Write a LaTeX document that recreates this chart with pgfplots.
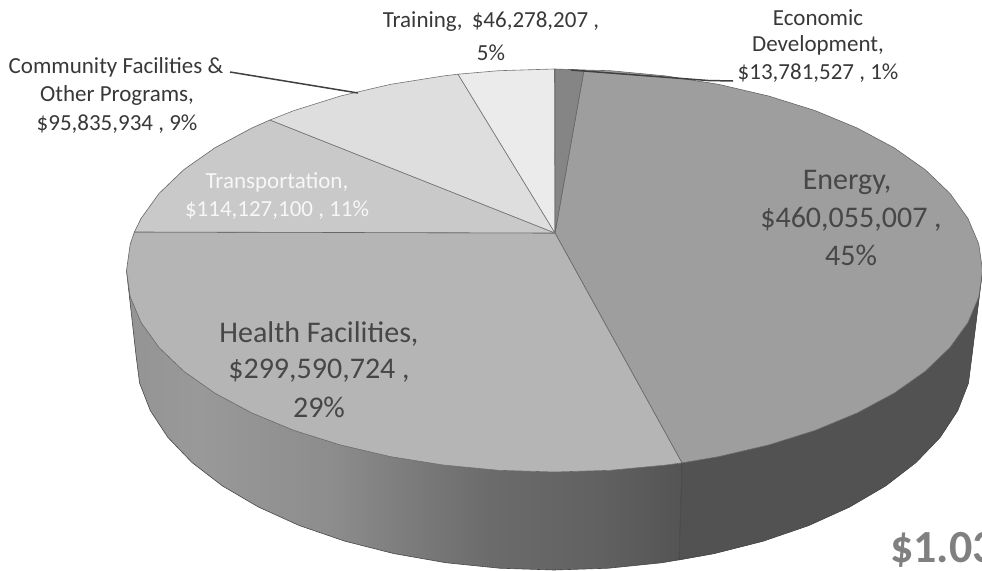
\documentclass[border=0pt]{standalone}
\usepackage{pgfplots}
\pgfplotsset{compat=1.18}
\usepackage{fontspec}
\setmainfont{Carlito}
\pgfdeclarehorizontalshading{healthside}{100bp}{
  color(0bp)=(black!42); color(25bp)=(black!42); color(31.6bp)=(black!40);
  color(43.6bp)=(black!45); color(50bp)=(black!51); color(57.8bp)=(black!58);
  color(67.6bp)=(black!62); color(75bp)=(black!67); color(100bp)=(black!67)}
\begin{document}
\begin{tikzpicture}[x=1pt,y=1pt]
\path[use as bounding box] (0,0) rectangle (982,570);
\begin{axis}[at={(0,0)},anchor=south west,scale only axis,width=982pt,height=570pt,
  axis lines=none,xmin=0,xmax=982,ymin=0,ymax=570,y dir=reverse,
  every axis plot/.append style={mark=none,line join=round}]
% Energy side
\addplot[fill=black!68,draw=black!68,line width=.3pt] coordinates {(982.5,270.5)(978.8,296.8)(967.9,322.6)(949.9,347.6)(925.2,371.3)(894.1,393.2)(857.1,413.0)(815.1,430.4)(768.5,445.0)(718.3,456.7)(682,462.9)(679,560)(714,553.6)(763,541.2)(808.5,525.6)(849.6,507.0)(885.6,485.9)(916,462.5)(940.2,437.3)(957.7,410.6)(968.4,383.1)(972,355)} -- cycle;
% Health side (one shaded polygon)
\addplot[shading=healthside,draw=none] coordinates {(682,462.9)(665.3,465.1)(610.4,470.3)(554.5,472)(498.6,470.3)(443.7,465.1)(390.7,456.7)(340.5,445)(293.9,430.4)(251.9,413)(214.9,393.2)(183.8,371.3)(159.1,347.6)(141.1,322.6)(130.2,296.8)(126.5,270.5)(136,355)(139.6,383.1)(150.3,410.6)(167.8,437.3)(192,462.5)(222.4,485.9)(258.4,507)(299.5,525.6)(345,541.2)(394,553.6)(445.8,562.7)(499.5,568.2)(554,570)(608.5,568.2)(662.2,562.7)(679,560)} -- cycle;
% side outline
\addplot[draw=black!72,line width=.6pt] coordinates {(126.5,270.5)(136,355)(139.6,383.1)(150.3,410.6)(167.8,437.3)(192,462.5)(222.4,485.9)(258.4,507)(299.5,525.6)(345,541.2)(394,553.6)(445.8,562.7)(499.5,568.2)(554,570)(608.5,568.2)(662.2,562.7)(714,553.6)(763,541.2)(808.5,525.6)(849.6,507)(885.6,485.9)(916,462.5)(940.2,437.3)(957.7,410.6)(968.4,383.1)(972,355)(982.5,270.5)};
\addplot[draw=black!75,line width=.5pt] coordinates {(682,462.9)(679,560)};
% Top faces
\addplot[fill=black!38,draw=black!60,line width=.6pt] coordinates {(555,233)(584,70)(610.4,70.7)(665.3,75.9)(718.3,84.3)(768.5,96)(815.1,110.6)(857.1,128)(894.1,147.8)(925.2,169.7)(949.9,193.4)(967.9,218.4)(978.8,244.2)(982.5,270.5)(978.8,296.8)(967.9,322.6)(949.9,347.6)(925.2,371.3)(894.1,393.2)(857.1,413)(815.1,430.4)(768.5,445)(718.3,456.7)(682,462.9)} -- cycle;
\addplot[fill=black!29,draw=black!60,line width=.6pt] coordinates {(555,233)(682,462.9)(665.3,465.1)(610.4,470.3)(554.5,472)(498.6,470.3)(443.7,465.1)(390.7,456.7)(340.5,445)(293.9,430.4)(251.9,413)(214.9,393.2)(183.8,371.3)(159.1,347.6)(141.1,322.6)(130.2,296.8)(126.5,270.5)(130.2,244.2)(134.4,232)} -- cycle;
\addplot[fill=black!21,draw=black!60,line width=.6pt] coordinates {(555,233)(134.4,232)(141.1,218.4)(159.1,193.4)(183.8,169.7)(214.9,147.8)(251.9,128)(270,120)} -- cycle;
\addplot[fill=black!13,draw=black!55,line width=.6pt] coordinates {(555,233)(270,120)(293.9,110.6)(340.5,96)(390.7,84.3)(443.7,75.9)(458,74.2)} -- cycle;
\addplot[fill=black!8,draw=black!55,line width=.6pt] coordinates {(555,233)(458,74.2)(498.6,70.7)(554.5,69)} -- cycle;
\addplot[fill=black!48,draw=black!60,line width=.6pt] coordinates {(555,233)(555,69)(584,70)} -- cycle;
% leaders
\addplot[draw=black!75,line width=1.5pt] coordinates {(230,72)(358,93)};
\addplot[draw=black!75,line width=1.5pt] coordinates {(733,81)(708,80.5)(571,70)};
% labels
\node[text=black!78,font=\fontsize{23}{23}\selectfont] at (axis cs:491,22) {Training, \,\$46,278,207 ,};
\node[text=black!78,font=\fontsize{23}{23}\selectfont] at (axis cs:491,53) {5\%};
\node[text=black!78,font=\fontsize{23}{23}\selectfont] at (axis cs:818,18) {Economic};
\node[text=black!78,font=\fontsize{23}{23}\selectfont] at (axis cs:818,45) {Development,};
\node[text=black!78,font=\fontsize{23}{23}\selectfont] at (axis cs:818,73) {\$13,781,527 , 1\%};
\node[text=black!78,font=\fontsize{23}{23}\selectfont] at (axis cs:116,67) {Community Facilities \&};
\node[text=black!78,font=\fontsize{23}{23}\selectfont] at (axis cs:117,95) {Other Programs,};
\node[text=black!78,font=\fontsize{23}{23}\selectfont] at (axis cs:117,124) {\$95,835,934 , 9\%};
\node[text=black!3,font=\fontsize{23}{23}\selectfont] at (axis cs:277,182) {Transportation,};
\node[text=black!3,font=\fontsize{23}{23}\selectfont] at (axis cs:277,210) {\$114,127,100 , 11\%};
\node[text=black!72,font=\fontsize{30}{30}\selectfont] at (axis cs:847,182) {Energy,};
\node[text=black!72,font=\fontsize{30}{30}\selectfont] at (axis cs:851,219) {\$460,055,007 ,};
\node[text=black!72,font=\fontsize{30}{30}\selectfont] at (axis cs:851,255) {45\%};
\node[text=black!72,font=\fontsize{30}{30}\selectfont] at (axis cs:319,334) {Health Facilities,};
\node[text=black!72,font=\fontsize{30}{30}\selectfont] at (axis cs:319,371) {\$299,590,724 ,};
\node[text=black!72,font=\fontsize{30}{30}\selectfont] at (axis cs:319,407) {29\%};
\end{axis}
\begin{scope}
\clip (0,0) rectangle (982,570);
\node[anchor=base west,text=black!50,font=\bfseries\fontsize{46}{46}\selectfont,inner sep=0pt] at (890,8) {\$1.03};
\end{scope}
\end{tikzpicture}
\end{document}
